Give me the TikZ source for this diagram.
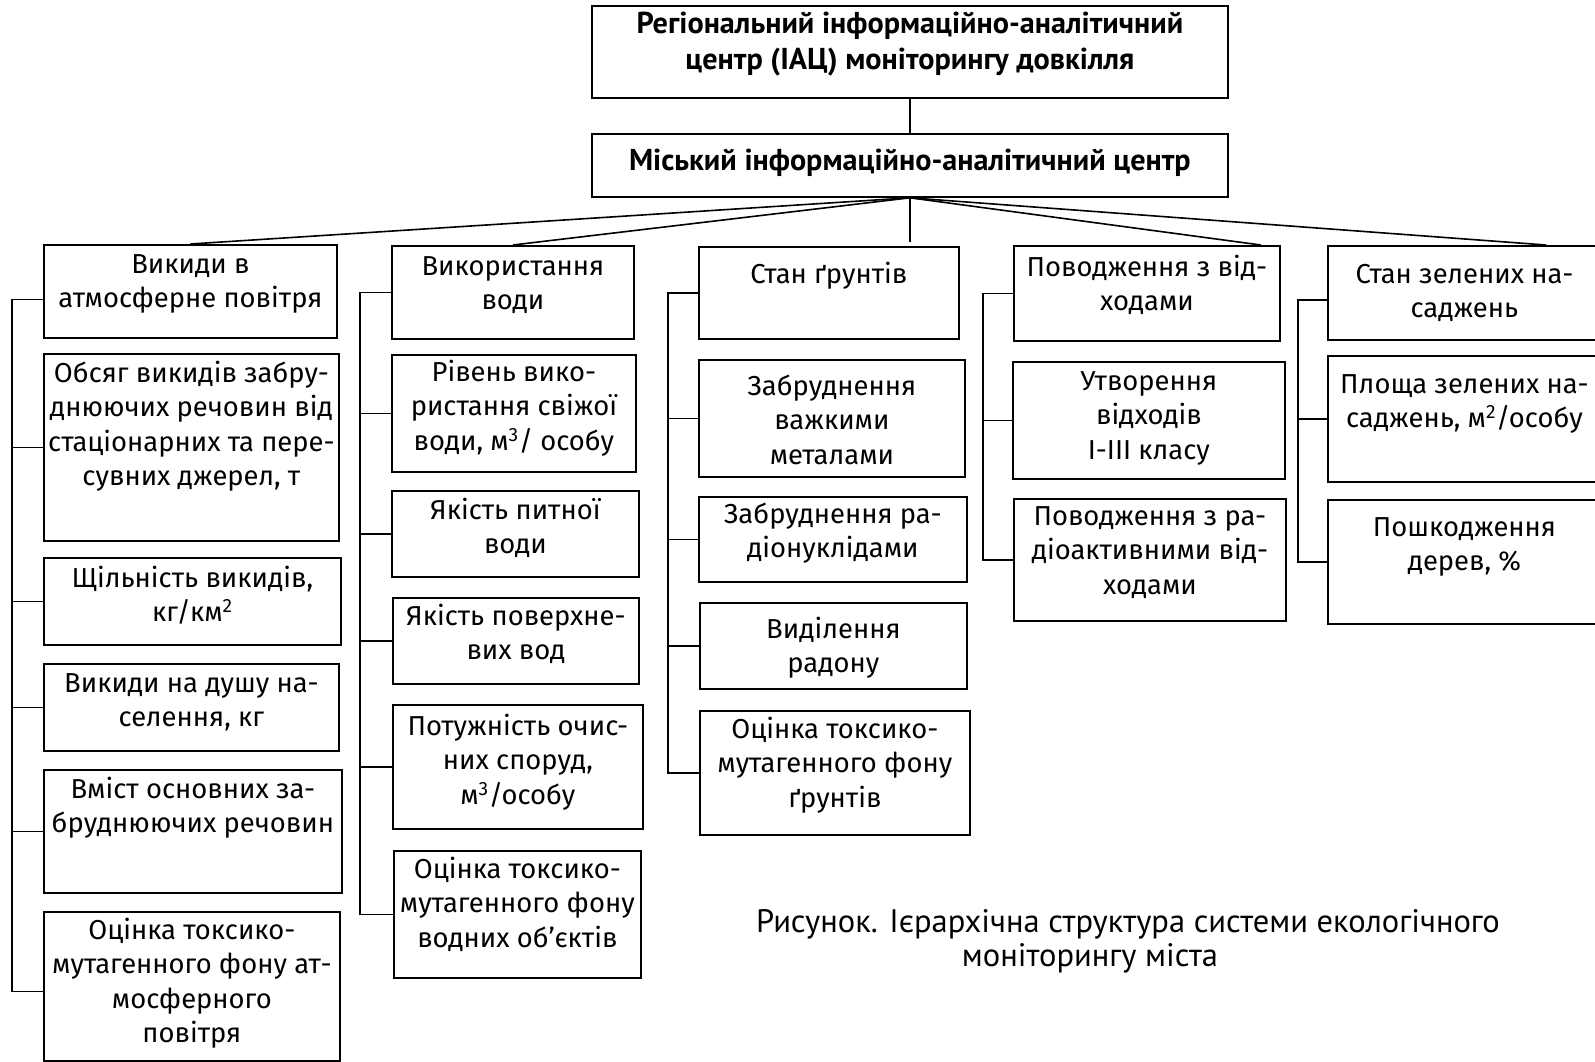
\documentclass[tikz,border=0pt]{standalone}
\usepackage{fontspec}
\setmainfont{Fira Sans}
\newfontfamily\ptsans{PT Sans}
\usetikzlibrary{positioning, calc}
% box text: width, height, top pad, lines
\newcommand{\bt}[4]{\parbox[t][#2pt][t]{#1pt}{\centering\vspace*{#3pt}\strut#4}}

\begin{document}
\begin{tikzpicture}[x=1pt, y=-1pt]
	\tikzstyle{cell}=[draw=black, line width=1.8pt, inner sep=0pt, anchor=north west, font=\fontsize{27.4}{34.5}\selectfont]
	\tikzstyle{headc}=[cell, font=\ptsans\bfseries\fontsize{30.2}{35.5}\selectfont]
	\tikzstyle{capt}=[inner sep=0pt, font=\ptsans\fontsize{32.5}{34}\selectfont]
	\tikzstyle{link}=[line width=1.6pt]
	\useasboundingbox (0,0) rectangle (1595,1062);
	\clip (0,0) rectangle (1595,1062);
	%% centres
	\node (reg) at (591,5) [headc] {\bt{636}{92}{3}{Регіональний інформаційно-аналітичний\\центр (ІАЦ) моніторингу довкілля}};
	\node (mis) at (591,133) [headc] {\bt{636}{63}{12}{Міський інформаційно-аналітичний центр}};
	
	%% air
	\node (a1) at (43,244) [cell] {\bt{293}{93}{4}{Викиди в\\атмосферне повітря}};
	\node (a2) at (43,353) [cell] {\bt{295}{187}{4}{Обсяг викидів забру-\\днюючих речовин від\\стаціонарних та пере-\\сувних джерел, т}};
	\node (a3) at (43,557) [cell] {\bt{297}{87}{5}{Щільність викидів,\\кг/км\textsuperscript{2}}};
	\node (a4) at (43,663) [cell] {\bt{295}{87}{4}{Викиди на душу на-\\селення, кг}};
	\node (a5) at (43,769) [cell] {\bt{298}{123}{4}{Вміст основних за-\\бруднюючих речовин}};
	\node (a6) at (43,911) [cell] {\bt{296}{149}{3}{Оцінка токсико-\\мутагенного фону ат-\\мосферного\\повітря}};
	
	%% water
	\node (b1) at (391,245) [cell] {\bt{242}{93}{5}{Використання\\води}};
	\node (b2) at (391,354) [cell] {\bt{244}{117}{2}{Рівень вико-\\ристання свіжої\\води, м\textsuperscript{3}/ особу}};
	\node (b3) at (391,490) [cell] {\bt{247}{86}{4}{Якість питної\\води}};
	\node (b4) at (392,597) [cell] {\bt{246}{86}{3}{Якість поверхне-\\вих вод}};
	\node (b5) at (392,704) [cell] {\bt{250}{124}{6}{Потужність очис-\\них споруд,\\м\textsuperscript{3}/особу}};
	\node (b6) at (393,850) [cell] {\bt{247}{127}{3}{Оцінка токсико-\\мутагенного фону\\водних об’єктів}};
	
	%% soil
	\node (c1) at (698,246) [cell] {\bt{260}{92}{12}{Стан ґрунтів}};
	\node (c2) at (698,359) [cell] {\bt{266}{117}{11}{Забруднення\\важкими\\металами}};
	\node (c3) at (698,496) [cell] {\bt{268}{85}{2}{Забруднення ра-\\діонуклідами}};
	\node (c4) at (699,602) [cell] {\bt{267}{86}{11}{Виділення\\радону}};
	\node (c5) at (699,710) [cell] {\bt{270}{124}{3}{Оцінка токсико-\\мутагенного фону\\ґрунтів}};
	
	%% waste
	\node (d1) at (1013,245) [cell] {\bt{266}{95}{6}{Поводження з від-\\ходами}};
	\node (d2) at (1012,361) [cell] {\bt{272}{117}{4}{Утворення\\відходів\\I-III класу}};
	\node (d3) at (1013,498) [cell] {\bt{272}{122}{2}{Поводження з ра-\\діоактивними від-\\ходами}};
	
	%% green
	\node (e1) at (1327,245) [cell] {\bt{273}{94}{13}{Стан зелених на-\\саджень}};
	\node (e2) at (1327,355) [cell] {\bt{273}{126}{13}{Площа зелених на-\\саджень, м\textsuperscript{2}/особу}};
	\node (e3) at (1327,499) [cell] {\bt{273}{124}{12}{Пошкодження\\дерев, \%}};
	
	\node (cap1) at (1128,924) [capt] {Рисунок. Ієрархічна структура системи екологічного};
	\node (cap2) at (1090,958) [capt] {моніторингу міста};
	
	%% links
	\draw [link] (reg.south) -- (mis.north);
	\draw [link] (mis.south) -- (a1.north);
	\draw [link] (mis.south) -- (b1.north);
	\draw [link] (mis.south) -- ([yshift=4pt]mis.south |- c1.north);
	\draw [link] (mis.south) -- ([xshift=-20pt]d1.north east);
	\draw [link] (mis.south) -- ([xshift=219pt]e1.north west);
	
	\coordinate (sa) at (12,0);
	\coordinate (sb) at (360,0);
	\coordinate (sc) at (668,0);
	\coordinate (sd) at (983,0);
	\coordinate (se) at (1298,0);
	
	\draw [link] ([yshift=-8pt]a1.west) -- ([yshift=-8pt]a1.west -| sa) -- ([yshift=-5pt]a6.west -| sa) -- ([yshift=-5pt]a6.west);
	\draw [link] (a2.west) -- (a2.west -| sa);
	\draw [link] (a3.west) -- (a3.west -| sa);
	\draw [link] (a4.west) -- (a4.west -| sa);
	\draw [link] (a5.west) -- (a5.west -| sa);
	
	\draw [link] (b1.west) -- (b1.west -| sb) -- (b6.west -| sb) -- (b6.west);
	\draw [link] (b2.west) -- (b2.west -| sb);
	\draw [link] (b3.west) -- (b3.west -| sb);
	\draw [link] (b4.west) -- (b4.west -| sb);
	\draw [link] (b5.west) -- (b5.west -| sb);
	
	\draw [link] (c1.west) -- (c1.west -| sc) -- (c5.west -| sc) -- (c5.west);
	\draw [link] (c2.west) -- (c2.west -| sc);
	\draw [link] (c3.west) -- (c3.west -| sc);
	\draw [link] (c4.west) -- (c4.west -| sc);
	
	\draw [link] (d1.west) -- (d1.west -| sd) -- (d3.west -| sd) -- (d3.west);
	\draw [link] (d2.west) -- (d2.west -| sd);
	
	\draw [link] ([yshift=-7pt]e1.west) -- ([yshift=-7pt]e1.west -| se) -- (e3.west -| se) -- (e3.west);
	\draw [link] (e2.west) -- (e2.west -| se);
\end{tikzpicture}
\end{document}
